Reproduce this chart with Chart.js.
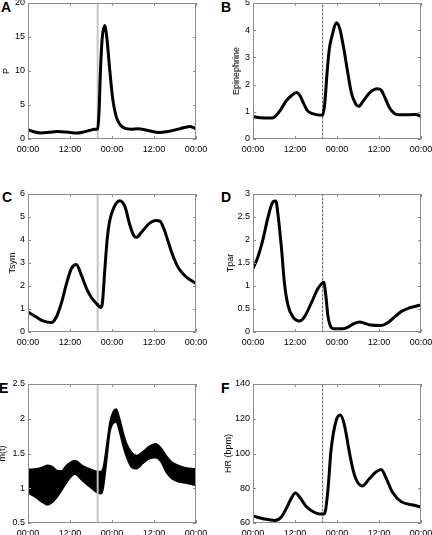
<!DOCTYPE html>
<html>
<head>
<meta charset="utf-8">
<script src="https://cdn.jsdelivr.net/npm/chart.js@4.4.0/dist/chart.umd.min.js"></script>
<style>
  body { margin: 0; background: #fff; width: 432px; height: 535px; position: relative; overflow: hidden;
         font-family: 'Liberation Sans', Arial, sans-serif; }
  canvas { position: absolute; }
  .lbl { position: absolute; font-weight: bold; font-size: 14px; line-height: 14px; color: #000; }
</style>
</head>
<body>
<div class="lbl" style="left:1px;top:0px">A</div>
<div class="lbl" style="left:221px;top:0px">B</div>
<div class="lbl" style="left:2px;top:190px">C</div>
<div class="lbl" style="left:221px;top:190px">D</div>
<div class="lbl" style="left:-1px;top:381px">E</div>
<div class="lbl" style="left:221px;top:381px">F</div>
<script>
// time of the event (hours from start), marked by the dotted line
const eventHour = 19.9;
const xTicks = ['00:00', '12:00', '00:00', '12:00', '00:00'];

// A: P
const hoursA = [0, 1.5, 3.5, 6, 8.5, 11, 14, 16, 17.5, 19, 19.9, 20.3, 20.7, 21.2, 21.9, 22.5, 23.3, 24.2, 25.2, 26.3, 27.6, 29.5, 31.5, 34, 37.5, 40, 43, 46.3, 47.2, 48];
const pVals = [1.37, 1.1, 0.9, 0.98, 1.1, 1.02, 0.88, 1.05, 1.25, 1.42, 1.5, 4, 10, 14.8, 16.7, 15, 10.5, 5.9, 3.3, 2.1, 1.6, 1.45, 1.5, 1.3, 0.95, 1.1, 1.45, 1.85, 1.7, 1.45];

// B: Epinephrine
const hoursB = [0, 2, 5.5, 6.5, 8, 9.5, 11, 12.4, 13.3, 14.5, 15.5, 17, 19.9, 20.5, 21.2, 21.8, 22.6, 23.8, 24.8, 25.9, 27, 28.1, 29.3, 30.2, 31.5, 33.5, 35.5, 36.6, 37.6, 39, 40.5, 42, 46.5, 48];
const epiVals = [0.83, 0.78, 0.77, 0.85, 1.1, 1.4, 1.6, 1.71, 1.62, 1.3, 1.05, 0.93, 0.87, 1.3, 2.5, 3.3, 3.8, 4.27, 4.05, 3.35, 2.5, 1.7, 1.3, 1.2, 1.4, 1.72, 1.85, 1.8, 1.55, 1.15, 0.93, 0.89, 0.9, 0.83];

// C: Tsym
const hoursC = [0, 2.4, 4.3, 6.7, 8.1, 9.5, 11, 12.4, 13.8, 15.3, 16.7, 18.1, 19.8, 20.7, 21.2, 21.9, 22.6, 23.3, 24.5, 26.2, 27.7, 29.1, 30.2, 31, 32.5, 34.5, 36.5, 37.7, 38.8, 40, 41.5, 43, 45, 48];
const tsymVals = [0.87, 0.65, 0.48, 0.41, 0.65, 1.24, 2.1, 2.76, 2.94, 2.45, 1.9, 1.5, 1.2, 1.07, 1.2, 2.6, 4.0, 4.8, 5.4, 5.71, 5.45, 4.65, 4.2, 4.12, 4.35, 4.7, 4.85, 4.82, 4.5, 3.95, 3.27, 2.78, 2.42, 2.11];

// D: Tpar
const hoursD = [0, 1.4, 2.9, 4.3, 5.7, 6.5, 7.1, 8.1, 9, 10, 11.4, 13.3, 14.7, 16.6, 18.5, 19.6, 20.2, 20.8, 21.4, 22, 23, 25.5, 27, 29, 30.5, 31.8, 33.5, 36.5, 38.5, 40.5, 42.5, 44.5, 46.5, 48];
const tparVals = [1.38, 1.63, 2.03, 2.5, 2.83, 2.85, 2.58, 1.85, 1.05, 0.58, 0.33, 0.24, 0.33, 0.62, 0.94, 1.05, 1.08, 0.8, 0.35, 0.15, 0.07, 0.07, 0.1, 0.19, 0.22, 0.19, 0.15, 0.14, 0.2, 0.33, 0.45, 0.52, 0.56, 0.59];

// E: m(t), fast oscillation shown as its upper and lower envelope
const hoursE = [0, 2.4, 4, 5.7, 7, 8.1, 9.5, 11, 13.4, 15.7, 18.1, 20, 20.8, 21.5, 22.4, 23.4, 24.3, 25.2, 26.2, 27.2, 28.3, 29.6, 31, 32.9, 34.5, 36.5, 38, 39.6, 41, 42.5, 45.3, 48];
const mUpper = [1.27, 1.28, 1.3, 1.33, 1.31, 1.26, 1.25, 1.33, 1.4, 1.32, 1.27, 1.24, 1.24, 1.3, 1.6, 1.95, 2.1, 2.14, 2.0, 1.8, 1.63, 1.52, 1.47, 1.53, 1.6, 1.64, 1.58, 1.46, 1.38, 1.34, 1.29, 1.28];
const mLower = [0.93, 0.86, 0.8, 0.76, 0.8, 0.86, 0.96, 1.08, 1.2, 1.1, 1.0, 0.93, 0.92, 1.0, 1.36, 1.8, 1.93, 1.95, 1.8, 1.6, 1.43, 1.3, 1.28, 1.36, 1.42, 1.44, 1.38, 1.22, 1.14, 1.1, 1.07, 1.04];

// F: HR (bpm)
const hoursF = [0, 2.9, 6.2, 8.1, 9.5, 10.9, 12.1, 13.3, 15.2, 17.1, 19, 20.4, 21.4, 22.3, 23.8, 25, 26.1, 27.6, 28.6, 29.6, 31.2, 33.3, 35.2, 36.6, 38, 39.9, 42.3, 46.1, 48];
const hrVals = [64, 62.5, 61.5, 63.5, 68.3, 74.1, 77.3, 75, 69.5, 66.6, 65.2, 65.2, 78.9, 102, 119.3, 122.2, 116.5, 100, 90.5, 84.5, 81.3, 85.6, 89.5, 90.8, 86, 77.5, 72.3, 70.2, 69.2];

const pts = (xs, ys) => xs.map((h, i) => ({ x: h, y: ys[i] }));
const tickFont = { family: "'Liberation Sans', Arial, sans-serif", size: 9 };

// frame box with inward tick marks, matlab style
const framePlugin = {
  id: 'frame',
  afterDatasetsDraw(chart) {
    const { ctx, chartArea: a, scales: { x, y } } = chart;
    ctx.save();
    ctx.strokeStyle = '#8c8c8c';
    ctx.lineWidth = 1;
    ctx.strokeRect(a.left + 0.5, a.top + 0.5, a.right - a.left - 1, a.bottom - a.top - 1);
    ctx.beginPath();
    x.ticks.forEach((t, i) => {
      const px = Math.round(x.getPixelForTick(i)) + 0.5;
      ctx.moveTo(px, a.top); ctx.lineTo(px, a.top + 3);
      ctx.moveTo(px, a.bottom); ctx.lineTo(px, a.bottom - 3);
    });
    y.ticks.forEach((t, i) => {
      const py = Math.round(y.getPixelForTick(i)) + 0.5;
      ctx.moveTo(a.left, py); ctx.lineTo(a.left + 3, py);
      ctx.moveTo(a.right, py); ctx.lineTo(a.right - 3, py);
    });
    ctx.stroke();
    ctx.restore();
  }
};

function eventLine(p) {
  return {
    data: [{ x: eventHour, y: p.yMin }, { x: eventHour, y: p.yMax }],
    borderColor: p.cx === 0 ? '#c4c4c4' : '#555',
    borderWidth: p.cx === 0 ? 2 : 1,
    borderDash: p.cx === 0 ? [1.5, 1] : [2, 2],
    tension: 0, cubicInterpolationMode: 'default'
  };
}

function curve(xs, ys) {
  return { data: pts(xs, ys), borderColor: '#000', borderWidth: 3 };
}

function makeChart(p, datasets) {
  const cv = document.createElement('canvas');
  cv.width = p.cw; cv.height = p.ch;
  cv.style.left = p.cx + 'px'; cv.style.top = p.cy + 'px';
  document.body.appendChild(cv);
  new Chart(cv, {
    type: 'line',
    data: { datasets },
    options: {
      responsive: false, animation: false, devicePixelRatio: 1,
      layout: { padding: { top: p.top - p.cy, right: p.cx + p.cw - p.right, left: 0, bottom: 0 } },
      plugins: { legend: { display: false }, tooltip: { enabled: false } },
      elements: { point: { radius: 0 }, line: { cubicInterpolationMode: 'monotone', borderCapStyle: 'round', borderJoinStyle: 'round' } },
      scales: {
        x: {
          type: 'linear', min: 0, max: 48,
          ticks: { stepSize: 12, autoSkip: false, maxRotation: 0, color: '#000', font: tickFont, padding: 5,
                   callback: (v) => xTicks[v / 12] },
          grid: { display: false, drawTicks: false }, border: { display: false },
          afterFit(s) { s.height = p.cy + p.ch - p.bottom; s.paddingLeft = 0; s.paddingRight = 0; }
        },
        y: {
          min: p.yMin, max: p.yMax,
          ticks: { stepSize: p.yStep, color: '#000', font: tickFont, padding: 3,
                   callback: (v) => String(+v.toFixed(2)) },
          grid: { display: false, drawTicks: false }, border: { display: false },
          title: { display: true, text: p.title, color: '#000', font: tickFont, padding: { top: p.titlePad, bottom: 0 } },
          afterFit(s) { s.width = p.left - p.cx; s.paddingTop = 0; s.paddingBottom = 0; }
        }
      }
    },
    plugins: [framePlugin]
  });
}

const L = { cx: 0, cw: 216, left: 28, right: 196 };
const R = { cx: 216, cw: 216, left: 253, right: 421 };
const row1 = { cy: 0, ch: 170, top: 3, bottom: 139 };
const row2 = { cy: 170, ch: 180, top: 194, bottom: 332 };
const row3 = { cy: 350, ch: 185, top: 384, bottom: 523 };

const pA = { ...L, ...row1, yMin: 0, yMax: 20, yStep: 5, title: 'P', titlePad: 1.6 };
makeChart(pA, [curve(hoursA, pVals), eventLine(pA)]);

const pB = { ...R, ...row1, yMin: 0, yMax: 5, yStep: 1, title: 'Epinephrine', titlePad: 15.3 };
makeChart(pB, [curve(hoursB, epiVals), eventLine(pB)]);

const pC = { ...L, ...row2, yMin: 0, yMax: 6, yStep: 1, title: 'Tsym', titlePad: 7.3 };
makeChart(pC, [curve(hoursC, tsymVals), eventLine(pC)]);

const pD = { ...R, ...row2, yMin: 0, yMax: 3, yStep: 0.5, title: 'Tpar', titlePad: 9.6 };
makeChart(pD, [curve(hoursD, tparVals), eventLine(pD)]);

const pE = { ...L, ...row3, yMin: 0.5, yMax: 2.5, yStep: 0.5, title: 'm(t)', titlePad: -2.7 };
makeChart(pE, [
  eventLine(pE),
  { data: pts(hoursE, mUpper), borderColor: '#000', borderWidth: 1.5 },
  { data: pts(hoursE, mLower), borderColor: '#000', borderWidth: 1.5, fill: '-1', backgroundColor: '#000' }
]);

const pF = { ...R, ...row3, yMin: 60, yMax: 140, yStep: 20, title: 'HR (bpm)', titlePad: 7.6 };
makeChart(pF, [curve(hoursF, hrVals), eventLine(pF)]);
</script>
</body>
</html>
